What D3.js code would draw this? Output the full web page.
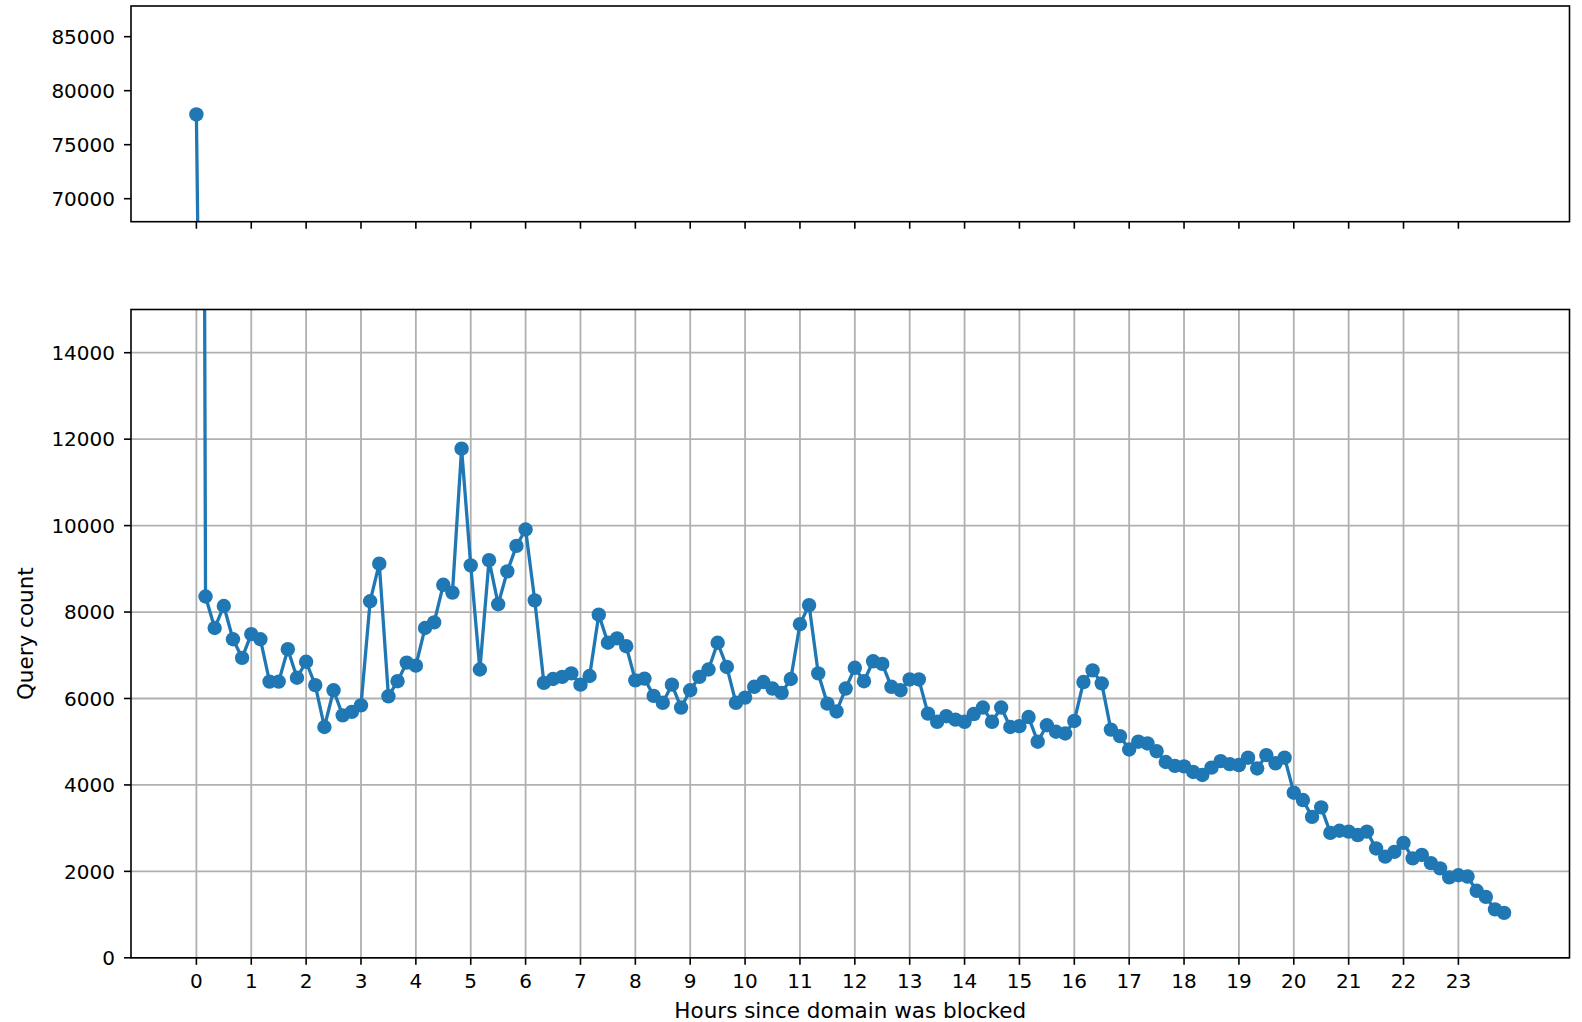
<!DOCTYPE html>
<html lang="en">
<head>
    <meta charset="UTF-8">
    <title>Query count after domain block</title>
    <script src="https://d3js.org/d3.v7.min.js"></script>
    <style>
        body { margin: 0; background: #fff; }
        svg { font-family: "DejaVu Sans", sans-serif; }
        .tick-label { font-size: 20px; fill: #000; }
        .axis-title { font-size: 21.5px; fill: #000; }
        .grid line { stroke: #b0b0b0; stroke-width: 1.8px; }
        .frame { fill: none; stroke: #000; stroke-width: 1.6px; }
    </style>
</head>
<body>
    <svg width="1582" height="1022"></svg>

    <script>
        // Data: one sample every 10 minutes (index / 6 = hours since block)
        const samplesPerHour = 6;
        const queryCounts = [
            77800, 8360, 7630, 8140, 7370, 6940,
            7490, 7370, 6390, 6390, 7140, 6480,
            6850, 6310, 5340, 6190, 5610, 5690,
            5840, 8250, 9120, 6050, 6400, 6830,
            6760, 7630, 7760, 8630, 8450, 11780,
            9080, 6670, 9200, 8180, 8940, 9530,
            9910, 8270, 6360, 6450, 6500, 6580,
            6320, 6520, 7940, 7290, 7390, 7210,
            6420, 6460, 6060, 5900, 6320, 5790,
            6190, 6500, 6670, 7290, 6730, 5900,
            6020, 6270, 6380, 6230, 6130, 6450,
            7720, 8160, 6580, 5880, 5700, 6230,
            6710, 6400, 6860, 6800, 6270, 6190,
            6440, 6440, 5650, 5460, 5590, 5510,
            5460, 5640, 5790, 5460, 5790, 5340,
            5360, 5570, 5000, 5380, 5230, 5190,
            5480, 6380, 6650, 6350, 5280, 5130,
            4820, 5000, 4960, 4780, 4530, 4440,
            4430, 4300, 4230, 4400, 4550, 4480,
            4460, 4630, 4380, 4690, 4500, 4630,
            3820, 3650, 3260, 3480, 2890, 2940,
            2920, 2840, 2920, 2530, 2340, 2450,
            2660, 2300, 2380, 2190, 2070, 1860,
            1910, 1880, 1550, 1410, 1120, 1040
        ];
        const xTicks = [0, 1, 2, 3, 4, 5, 6, 7, 8, 9, 10, 11, 12, 13, 14, 15, 16, 17, 18, 19, 20, 21, 22, 23];
        const yTicksTop = [70000, 75000, 80000, 85000];
        const yTicksBottom = [0, 2000, 4000, 6000, 8000, 10000, 12000, 14000];
        const yDomainTop = [67870, 87840];
        const yDomainBottom = [0, 15000];

        const data = queryCounts.map((v, i) => ({ hour: i / samplesPerHour, count: v }));

        // Layout (pixels)
        const left = 131, right = 1569.5;
        const top1 = 6, bottom1 = 221.7;
        const top2 = 309.5, bottom2 = 957.8;
        const tickLen = 7, tickPad = 7;
        const color = "#1f77b4";

        const svg = d3.select("svg");

        // x scale with matplotlib-style 5% margins
        const span = d3.max(data, d => d.hour);
        const x = d3.scaleLinear()
            .domain([-0.05 * span, span * 1.05])
            .range([left, right]);

        const yTop = d3.scaleLinear().domain(yDomainTop).range([bottom1, top1]);
        const yBot = d3.scaleLinear().domain(yDomainBottom).range([bottom2, top2]);

        function drawPanel(id, y, yTicks, yTop0, yBottom0, withGrid, withXLabels) {
            const g = svg.append("g");

            g.append("clipPath").attr("id", id)
                .append("rect")
                .attr("x", left).attr("y", yTop0)
                .attr("width", right - left).attr("height", yBottom0 - yTop0);

            if (withGrid) {
                const grid = g.append("g").attr("class", "grid");
                grid.selectAll(".gx").data(xTicks).enter().append("line")
                    .attr("x1", d => x(d)).attr("x2", d => x(d))
                    .attr("y1", yTop0).attr("y2", yBottom0);
                grid.selectAll(".gy").data(yTicks).enter().append("line")
                    .attr("x1", left).attr("x2", right)
                    .attr("y1", d => y(d)).attr("y2", d => y(d));
            }

            // series
            const plot = g.append("g").attr("clip-path", `url(#${id})`);
            plot.append("path")
                .datum(data)
                .attr("fill", "none")
                .attr("stroke", color)
                .attr("stroke-width", 3.3)
                .attr("stroke-linejoin", "round")
                .attr("d", d3.line().x(d => x(d.hour)).y(d => y(d.count)));
            plot.selectAll("circle")
                .data(data)
                .enter().append("circle")
                .attr("cx", d => x(d.hour))
                .attr("cy", d => y(d.count))
                .attr("r", 7.2)
                .attr("fill", color);

            // frame
            g.append("rect").attr("class", "frame")
                .attr("x", left).attr("y", yTop0)
                .attr("width", right - left).attr("height", yBottom0 - yTop0);

            // y axis
            const ya = g.append("g");
            ya.selectAll("line").data(yTicks).enter().append("line")
                .attr("x1", left - tickLen).attr("x2", left)
                .attr("y1", d => y(d)).attr("y2", d => y(d))
                .attr("stroke", "#000").attr("stroke-width", 1.6);
            ya.selectAll("text").data(yTicks).enter().append("text")
                .attr("class", "tick-label")
                .attr("x", left - tickLen - tickPad - 2)
                .attr("y", d => y(d))
                .attr("dy", "0.36em")
                .attr("text-anchor", "end")
                .text(d => d);

            // x axis
            const xa = g.append("g");
            xa.selectAll("line").data(xTicks).enter().append("line")
                .attr("x1", d => x(d)).attr("x2", d => x(d))
                .attr("y1", yBottom0).attr("y2", yBottom0 + tickLen)
                .attr("stroke", "#000").attr("stroke-width", 1.6);
            if (withXLabels) {
                xa.selectAll("text").data(xTicks).enter().append("text")
                    .attr("class", "tick-label")
                    .attr("x", d => x(d))
                    .attr("y", yBottom0 + tickLen + tickPad + 16)
                    .attr("text-anchor", "middle")
                    .text(d => d);
            }
        }

        drawPanel("clip-top", yTop, yTicksTop, top1, bottom1, false, false);
        drawPanel("clip-bottom", yBot, yTicksBottom, top2, bottom2, true, true);

        // axis titles
        svg.append("text")
            .attr("class", "axis-title")
            .attr("x", (left + right) / 2)
            .attr("y", 1018)
            .attr("text-anchor", "middle")
            .text("Hours since domain was blocked");

        svg.append("text")
            .attr("class", "axis-title")
            .attr("transform", `translate(33,${(top2 + bottom2) / 2}) rotate(-90)`)
            .attr("text-anchor", "middle")
            .text("Query count");
    </script>
</body>
</html>
